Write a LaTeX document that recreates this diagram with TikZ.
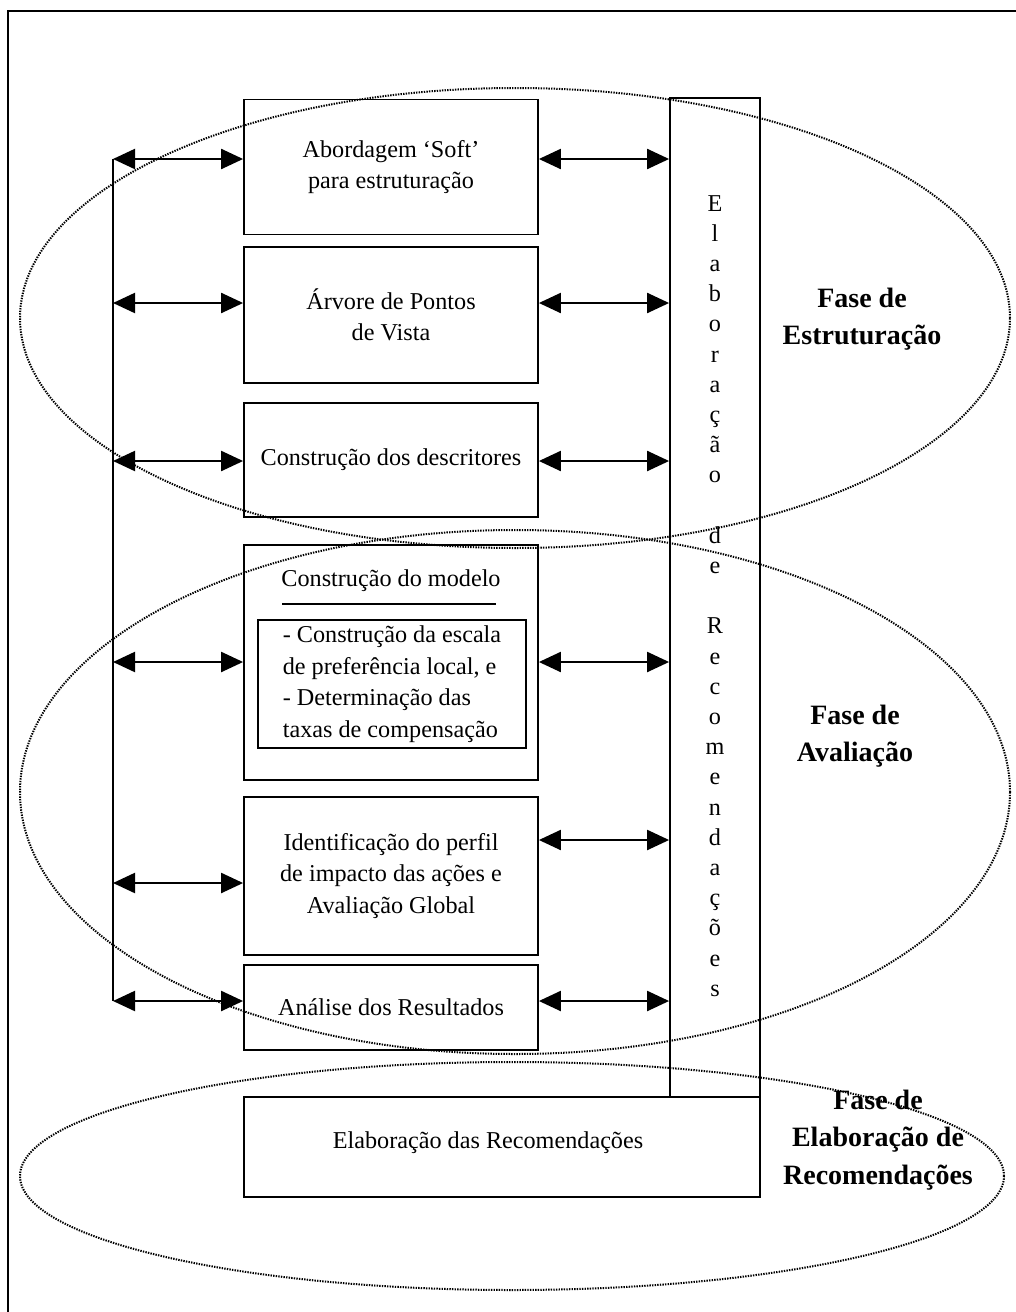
\documentclass[tikz,border=0pt]{standalone}
\usepackage{fontspec}
\setmainfont{Liberation Serif}
\usetikzlibrary{arrows.meta}
\begin{document}
\begin{tikzpicture}[x=1pt,y=-1pt,
  stage/.style={draw, line width=1.8pt, inner sep=0pt, align=center,
    font=\fontsize{24.2}{31.5}\selectfont},
  plain/.style={inner sep=0pt, align=center, font=\fontsize{24.2}{31.5}\selectfont},
  link/.style={line width=2.2pt,
    {Triangle[length=22pt,width=20pt]}-{Triangle[length=22pt,width=20pt]}},
  phase/.style={line width=2pt, dash pattern=on 1.4pt off 1.2pt},
  phaselabel/.style={inner sep=0pt, align=center,
    font=\bfseries\fontsize{28}{37.5}\selectfont}]
\useasboundingbox (0,0) rectangle (1016,1312);

% page frame (top and left edges)
\draw[line width=2pt] (8,1312) -- (8,11) -- (1016,11);

% phase ellipses
\draw[phase] (515,318) ellipse [x radius=495pt, y radius=230pt];
\draw[phase] (515,792) ellipse [x radius=495pt, y radius=262pt];
\draw[phase] (512,1176) ellipse [x radius=492pt, y radius=114pt];

% method steps
\node[stage, minimum width=294pt, minimum height=135pt] (b1) at (391,167)
  {Abordagem ‘Soft’\\para estruturação};
\node[stage, minimum width=294pt, minimum height=136pt] (b2) at (391,315)
  {Árvore de Pontos\\de Vista};
\node[stage, minimum width=294pt, minimum height=114pt] (b3) at (391,460)
  {Construção dos descritores};
\node[stage, minimum width=294pt, minimum height=235pt] (b4) at (391,662.5) {};
\node[plain] (b4t) at (391,581) {Construção do modelo};
\draw[line width=1.5pt] (282,604) -- (496,604);
\node[stage, minimum width=268pt, minimum height=128pt, align=left] (b4i) at (392,684)
  {- Construção da escala\\de preferência local, e\\- Determinação das\\taxas de compensação};
\node[stage, minimum width=294pt, minimum height=158pt] (b5) at (391,876)
  {Identificação do perfil\\de impacto das ações e\\Avaliação Global};
\node[stage, minimum width=294pt, minimum height=85pt] (b6) at (391,1007.5)
  {Análise dos Resultados};

% recommendations column and final step
\node[stage, minimum width=90pt, minimum height=999pt] (col) at (715,597.5) {};
\node[inner sep=0pt, align=center, anchor=north,
  font=\fontsize{24.2}{30.2}\selectfont] (colt) at (715,195)
  {E\\l\\a\\b\\o\\r\\a\\ç\\ã\\o\\~\\d\\e\\~\\R\\e\\c\\o\\m\\e\\n\\d\\a\\ç\\õ\\e\\s};
\node[stage, minimum width=516pt, minimum height=100pt] (rec) at (502,1147) {};
\node[plain] (rect) at (488,1143) {Elaboração das Recomendações};

% feedback spine on the left
\coordinate (s1) at (113,159);
\coordinate (s2) at (113,303);
\coordinate (s3) at (113,461);
\coordinate (s4) at (113,662);
\coordinate (s5) at (113,883);
\coordinate (s6) at (113,1001);
\coordinate (r5) at (600,840);
\draw[line width=2pt] (s1) -- (s6);

\draw[link] (s1) -- (s1 -| b1.west);
\draw[link] (s2) -- (s2 -| b2.west);
\draw[link] (s3) -- (s3 -| b3.west);
\draw[link] (s4) -- (s4 -| b4.west);
\draw[link] (s5) -- (s5 -| b5.west);
\draw[link] (s6) -- (s6 -| b6.west);

\draw[link] (b1.east |- s1) -- (s1 -| col.west);
\draw[link] (b2.east |- s2) -- (s2 -| col.west);
\draw[link] (b3.east |- s3) -- (s3 -| col.west);
\draw[link] (b4.east |- s4) -- (s4 -| col.west);
\draw[link] (b5.east |- r5) -- (r5 -| col.west);
\draw[link] (b6.east |- s6) -- (s6 -| col.west);

% phase labels
\node[phaselabel] (p1) at (862,319) {Fase de\\Estruturação};
\node[phaselabel] (p2) at (855,736) {Fase de\\Avaliação};
\node[phaselabel] (p3) at (878,1140) {Fase de\\Elaboração de\\Recomendações};
\end{tikzpicture}
\end{document}
